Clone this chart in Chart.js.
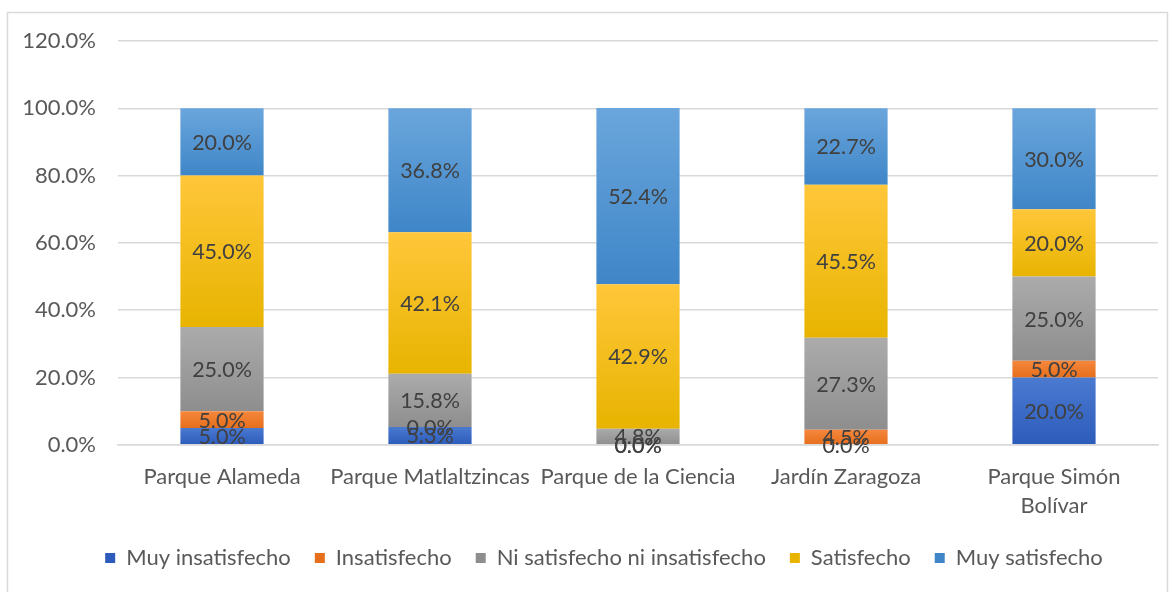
<!DOCTYPE html>
<html>
<head>
<meta charset="utf-8">
<script src="https://cdn.jsdelivr.net/npm/chart.js@4"></script>
<style>
  html, body { margin: 0; padding: 0; background: #fff; }
  #wrap { position: relative; width: 1172px; height: 592px; }
</style>
</head>
<body>
<div id="wrap"><canvas id="satisfChart" width="1172" height="592"></canvas></div>
<script>
// categorias (parques)
const parques = ['Parque Alameda', 'Parque Matlaltzincas', 'Parque de la Ciencia', 'Jardín Zaragoza', ['Parque Simón', 'Bolívar']];

// porcentajes por nivel de satisfaccion
const muyInsatisfecho = [5.0, 5.3, 0.0, 0.0, 20.0];
const insatisfecho = [5.0, 0.0, 0.0, 4.5, 5.0];
const niSatisfecho = [25.0, 15.8, 4.8, 27.3, 25.0];
const satisfecho = [45.0, 42.1, 42.9, 45.5, 20.0];
const muySatisfecho = [20.0, 36.8, 52.4, 22.7, 30.0];

const yTicks = [0, 20, 40, 60, 80, 100, 120];

const FONT = 'Lato, "Open Sans", sans-serif';
const series = [muyInsatisfecho, insatisfecho, niSatisfecho, satisfecho, muySatisfecho];

// degradado suave de arriba (claro) hacia abajo (oscuro)
function degradado(top, bottom, legendColor) {
    return function (c) {
        if (c.type !== 'data') return legendColor;
        const chart = c.chart;
        const y = chart.scales.y;
        if (!y || !chart.chartArea) return legendColor;
        let base = 0;
        for (let i = 0; i < c.datasetIndex; i++) base += series[i][c.dataIndex];
        const y0 = y.getPixelForValue(base);
        const y1 = y.getPixelForValue(base + series[c.datasetIndex][c.dataIndex]);
        if (!isFinite(y0) || !isFinite(y1) || y0 === y1) return legendColor;
        const g = chart.ctx.createLinearGradient(0, y1, 0, y0);
        g.addColorStop(0, top);
        g.addColorStop(1, bottom);
        return g;
    };
}

// etiquetas de valor en el centro de cada segmento
const etiquetas = {
    id: 'etiquetas',
    afterDatasetsDraw(chart) {
        const ctx = chart.ctx;
        ctx.save();
        ctx.font = '21.5px ' + FONT;
        ctx.fillStyle = '#404040';
        ctx.textAlign = 'center';
        ctx.textBaseline = 'middle';
        chart.data.datasets.forEach((ds, i) => {
            const meta = chart.getDatasetMeta(i);
            meta.data.forEach((bar, j) => {
                ctx.fillText(ds.data[j].toFixed(1) + '%', bar.x, (bar.y + bar.base) / 2 + 1);
            });
        });
        ctx.restore();
    }
};

// marco gris alrededor del grafico
const marco = {
    id: 'marco',
    beforeDraw(chart) {
        const ctx = chart.ctx;
        ctx.save();
        ctx.strokeStyle = '#d9d9d9';
        ctx.lineWidth = 1.5;
        ctx.strokeRect(7.5, 12.5, 1160, 600);
        ctx.restore();
    }
};

// la leyenda va un poco mas a la derecha y mas arriba
const moverLeyenda = {
    id: 'moverLeyenda',
    afterLayout(chart) {
        const lg = chart.legend;
        if (!lg) return;
        lg.left += 20; lg.right += 20;
        lg.top -= 15; lg.bottom -= 15;
    }
};

const ctx = document.getElementById('satisfChart');

new Chart(ctx, {
    type: 'bar',
    data: {
        labels: parques,
        datasets: [
            { label: 'Muy insatisfecho', data: muyInsatisfecho, backgroundColor: degradado('#4a7ad0', '#2c5bbb', '#3a68c4') },
            { label: 'Insatisfecho', data: insatisfecho, backgroundColor: degradado('#f5873c', '#e66f1c', '#ed7d31') },
            { label: 'Ni satisfecho ni insatisfecho', data: niSatisfecho, backgroundColor: degradado('#ababab', '#8e8e8e', '#a0a0a0') },
            { label: 'Satisfecho', data: satisfecho, backgroundColor: degradado('#ffc73a', '#e8b400', '#ffc000') },
            { label: 'Muy satisfecho', data: muySatisfecho, backgroundColor: degradado('#6aa6dc', '#3f86c8', '#5b9bd5') }
        ]
    },
    options: {
        responsive: false,
        animation: false,
        devicePixelRatio: 1,
        layout: { padding: { top: 41, left: 10, right: 14, bottom: -2 } },
        datasets: {
            bar: { barPercentage: 1, categoryPercentage: 0.4, borderWidth: 0 }
        },
        plugins: {
            legend: {
                position: 'bottom',
                labels: {
                    color: '#595959',
                    font: { family: FONT, size: 22 },
                    boxWidth: 10,
                    boxHeight: 10,
                    padding: 24
                }
            },
            tooltip: { enabled: false }
        },
        scales: {
            x: {
                stacked: true,
                grid: { display: false, drawTicks: false },
                border: { color: '#d9d9d9', width: 1.5 },
                ticks: {
                    color: '#595959',
                    font: { family: FONT, size: 22, lineHeight: 1.3 },
                    maxRotation: 0,
                    autoSkip: false,
                    padding: 18
                }
            },
            y: {
                stacked: true,
                min: 0,
                max: 120,
                afterFit: scale => { scale.width = 108; },
                afterBuildTicks: scale => { scale.ticks = yTicks.map(v => ({ value: v })); },
                grid: { color: '#d9d9d9', lineWidth: 1.5, drawTicks: false },
                border: { display: false },
                ticks: {
                    color: '#595959',
                    font: { family: FONT, size: 22 },
                    padding: 22,
                    callback: value => value.toFixed(1) + '%'
                }
            }
        }
    },
    plugins: [marco, moverLeyenda, etiquetas]
});
</script>
</body>
</html>
